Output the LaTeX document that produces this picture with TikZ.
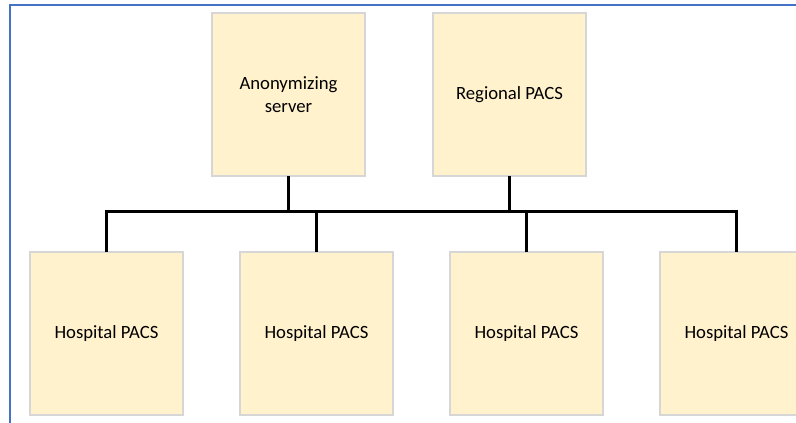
\documentclass[tikz,border=0pt]{standalone}
\usepackage{fontspec}
\setmainfont{Carlito}
\usepackage{xcolor}
\usepackage{tikz}
\usetikzlibrary{
    positioning,
    calc
}
\definecolor{boxfill}{HTML}{FFF2CC}
\definecolor{boxline}{HTML}{D6D6D6}
\definecolor{frameblue}{HTML}{4472C4}
\tikzset{
    pacsbox/.style={
        rectangle, draw=boxline, line width=1.2pt, fill=boxfill,
        minimum width=153pt, minimum height=163pt,
        inner sep=0pt, outer sep=0pt, align=center,
        font=\fontsize{18.7}{22.5}\selectfont, text=black
    },
    link/.style={
        draw=black, line width=3pt
    },
    pageframe/.style={
        draw=frameblue, line width=2pt
    }
}

\begin{document}
\begin{tikzpicture}[x=1pt, y=-1pt, node distance=57pt]
        \useasboundingbox (0,0) rectangle (796,423);

        % Page frame
        \draw[pageframe] (9.5,423) -- (9.5,5) -- (796,5);

        % Upper servers
        \node[pacsbox] (anon) at (288.5,94.5) {Anonymizing\\server};
        \node[pacsbox, right=68pt of anon] (regional) {Regional PACS};

        % Hospitals
        \node[pacsbox] (hosp1) at (106.5,333.5) {Hospital PACS};
        \node[pacsbox, right=of hosp1] (hosp2) {Hospital PACS};
        \node[pacsbox, right=of hosp2] (hosp3) {Hospital PACS};
        \node[pacsbox, right=of hosp3] (hosp4) {Hospital PACS};

        % Network bus
        \coordinate (bus) at (0,211.5);
        \draw[link] (anon.south) -- (anon.south |- bus);
        \draw[link] (regional.south) -- (regional.south |- bus);
        \draw[link] (hosp1.north) -- (hosp1.north |- bus) -- (hosp4.north |- bus) -- (hosp4.north);
        \draw[link] (hosp2.north) -- (hosp2.north |- bus);
        \draw[link] (hosp3.north) -- (hosp3.north |- bus);

    \end{tikzpicture}
\end{document}
